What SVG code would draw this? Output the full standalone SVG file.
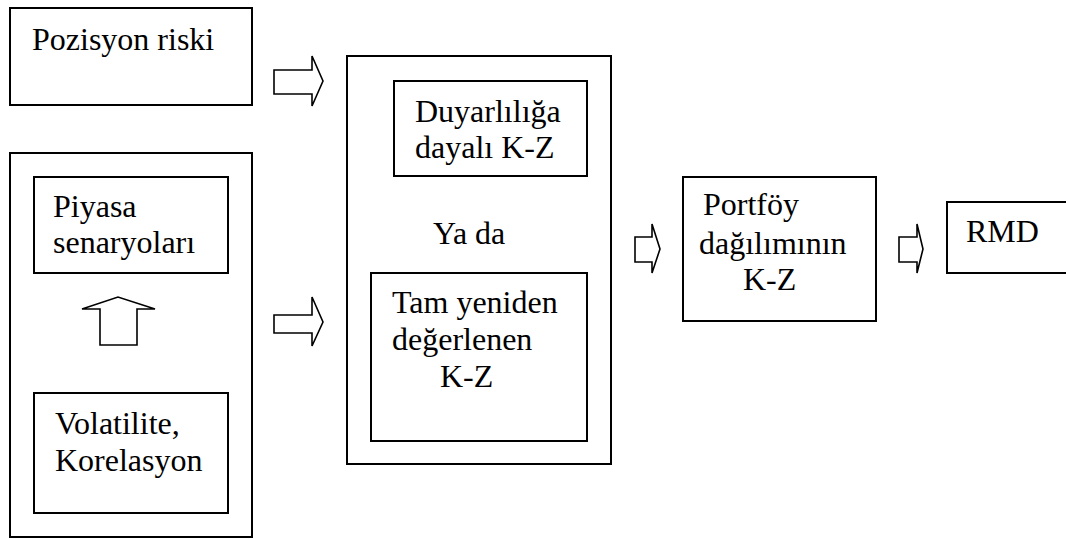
<svg xmlns="http://www.w3.org/2000/svg" width="1066" height="539" viewBox="0 0 1066 539">
<style>
.box{fill:none;stroke:#000;stroke-width:2}
.arr{fill:#fff;stroke:#000;stroke-width:1.6;stroke-linejoin:miter}
.t{font-family:'Liberation Serif','DejaVu Serif','Times New Roman',serif;font-size:32px;fill:#000}
</style>
<rect width="1066" height="539" fill="#fff"/>
<g id="pozisyon">
<rect class="box" x="10" y="8" width="242" height="97"/>
<text class="t" x="32" y="50">Pozisyon riski</text>
</g>
<g id="sol-grup">
<rect class="box" x="10" y="153" width="242" height="384"/>
</g>
<g id="piyasa">
<rect class="box" x="34" y="177" width="194" height="96"/>
<text class="t" x="53" y="217">Piyasa</text>
<text class="t" x="53" y="253">senaryoları</text>
</g>
<g id="volatilite">
<rect class="box" x="34" y="393" width="194" height="120"/>
<text class="t" x="55" y="434">Volatilite,</text>
<text class="t" x="55" y="471">Korelasyon</text>
</g>
<g id="orta-grup">
<rect class="box" x="347" y="56" width="264" height="408"/>
<text class="t" x="433" y="244">Ya da</text>
</g>
<g id="duyarlilik">
<rect class="box" x="394" y="81" width="193" height="95"/>
<text class="t" x="415" y="122">Duyarlılığa</text>
<text class="t" x="415" y="158">dayalı K-Z</text>
</g>
<g id="tam">
<rect class="box" x="371" y="273" width="216" height="168"/>
<text class="t" x="392" y="313">Tam yeniden</text>
<text class="t" x="392" y="350">değerlenen</text>
<text class="t" x="440" y="387">K-Z</text>
</g>
<g id="portfoy">
<rect class="box" x="683" y="177" width="193" height="144"/>
<text class="t" x="703" y="215">Portföy</text>
<text class="t" x="699" y="254">dağılımının</text>
<text class="t" x="743" y="290">K-Z</text>
</g>
<g id="rmd">
<rect class="box" x="947" y="202" width="130" height="71"/>
<text class="t" x="966" y="242">RMD</text>
</g>
<g id="connectors">
<polygon class="arr" points="274,70 312,70 312,56 323,81 312,106 312,94 274,94"/>
<polygon class="arr" points="274,315 312,315 312,297 323,322 312,346 312,333 274,333"/>
<polygon class="arr" points="100,345 100,309 82,309 118,297 155,309 137,309 137,345"/>
<polygon class="arr" points="635,237 652,237 652,224 660,249 652,273 652,262 635,262"/>
<polygon class="arr" points="899,237 917,237 917,224 923,249 917,273 917,262 899,262"/>
</g>
</svg>
